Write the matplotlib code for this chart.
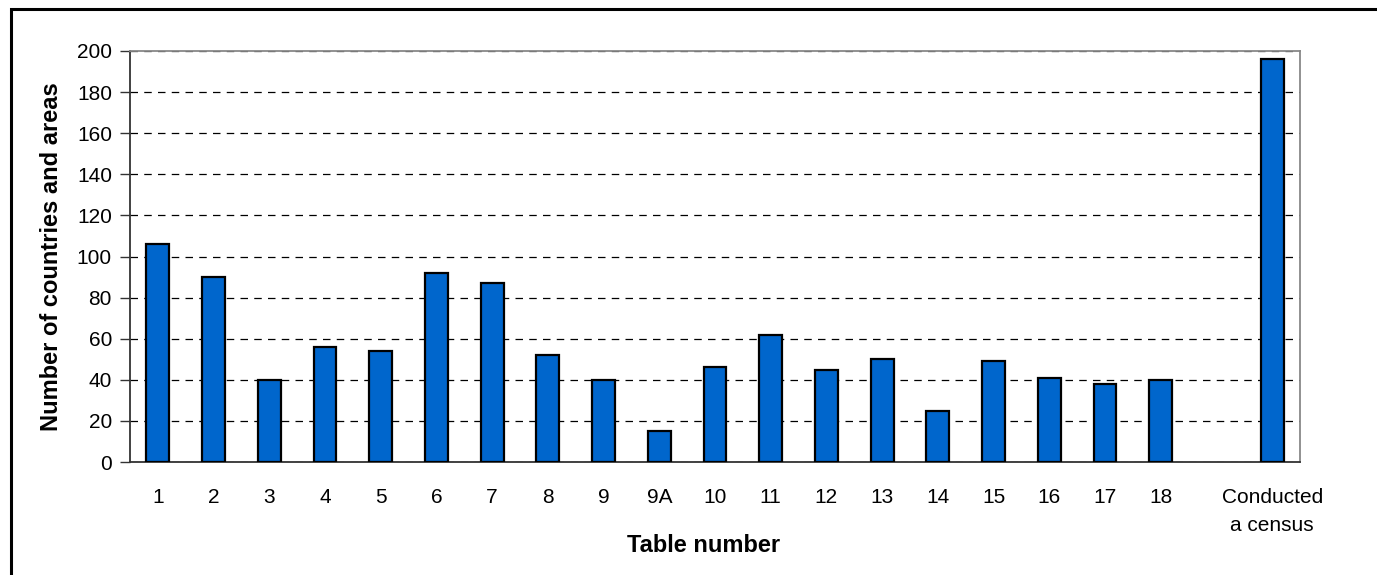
import matplotlib.pyplot as plt
from matplotlib.patches import Rectangle

plt.rcParams['font.family'] = ['Liberation Sans', 'DejaVu Sans']

# Number of countries and areas reporting each table
tables = ["1", "2", "3", "4", "5", "6", "7", "8", "9", "9A",
          "10", "11", "12", "13", "14", "15", "16", "17", "18"]
counts = [106, 90, 40, 56, 54, 92, 87, 52, 40, 15,
          46, 62, 45, 50, 25, 49, 41, 38, 40]
census_label = "Conducted\na census"
census_count = 196

labels = tables + ["", census_label]
values = counts + [0, census_count]
positions = list(range(len(labels)))

fig = plt.figure(figsize=(13.77, 5.75), dpi=100)
ax = fig.add_axes([130 / 1377, 1 - 462 / 575, 1170 / 1377, 411 / 575])

# outer frame (left and top edges fall inside the image)
fig.patches.append(Rectangle((11 / 1377, -0.1), 1.2, 1 - 9 / 575 + 0.1,
                             transform=fig.transFigure, fill=False,
                             edgecolor="black", linewidth=2.2))

bar_pos = [p for p, v in zip(positions, values) if v > 0]
bar_val = [v for v in values if v > 0]
ax.bar(bar_pos, bar_val, width=0.41, color="#0066CC",
       edgecolor="black", linewidth=1.6, zorder=3)

ax.set_xlim(-0.5, len(labels) - 0.5)
ax.set_ylim(0, 200)
ax.set_yticks(range(0, 201, 20))
ax.set_xticks(positions)
ax.set_xticklabels(labels, linespacing=1.55)
ax.tick_params(axis="x", length=0, pad=19, labelsize=15)
ax.tick_params(axis="y", length=7, width=1, direction="out", pad=6,
               labelsize=15, color="#333333")

ax.yaxis.grid(True, linestyle=(0, (6, 5)), color="black", linewidth=0.9)
ax.set_axisbelow(True)

ax.spines["left"].set_color("#333333")
ax.spines["bottom"].set_color("#333333")
ax.spines["top"].set_color("#888888")
ax.spines["right"].set_color("#888888")
for s in ax.spines.values():
    s.set_linewidth(1.3)

ax.set_xlabel("Table number", fontsize=17, fontweight="bold")
ax.set_ylabel("Number of countries and areas", fontsize=17,
              fontweight="bold")
ax.xaxis.set_label_coords(0.49, -84 / 411, transform=ax.transAxes)
ax.yaxis.set_label_coords(-78 / 1170, 0.5, transform=ax.transAxes)
ax.xaxis.label.set_va("center")
ax.yaxis.label.set_va("center")

fig.savefig("out.png", dpi=100)
